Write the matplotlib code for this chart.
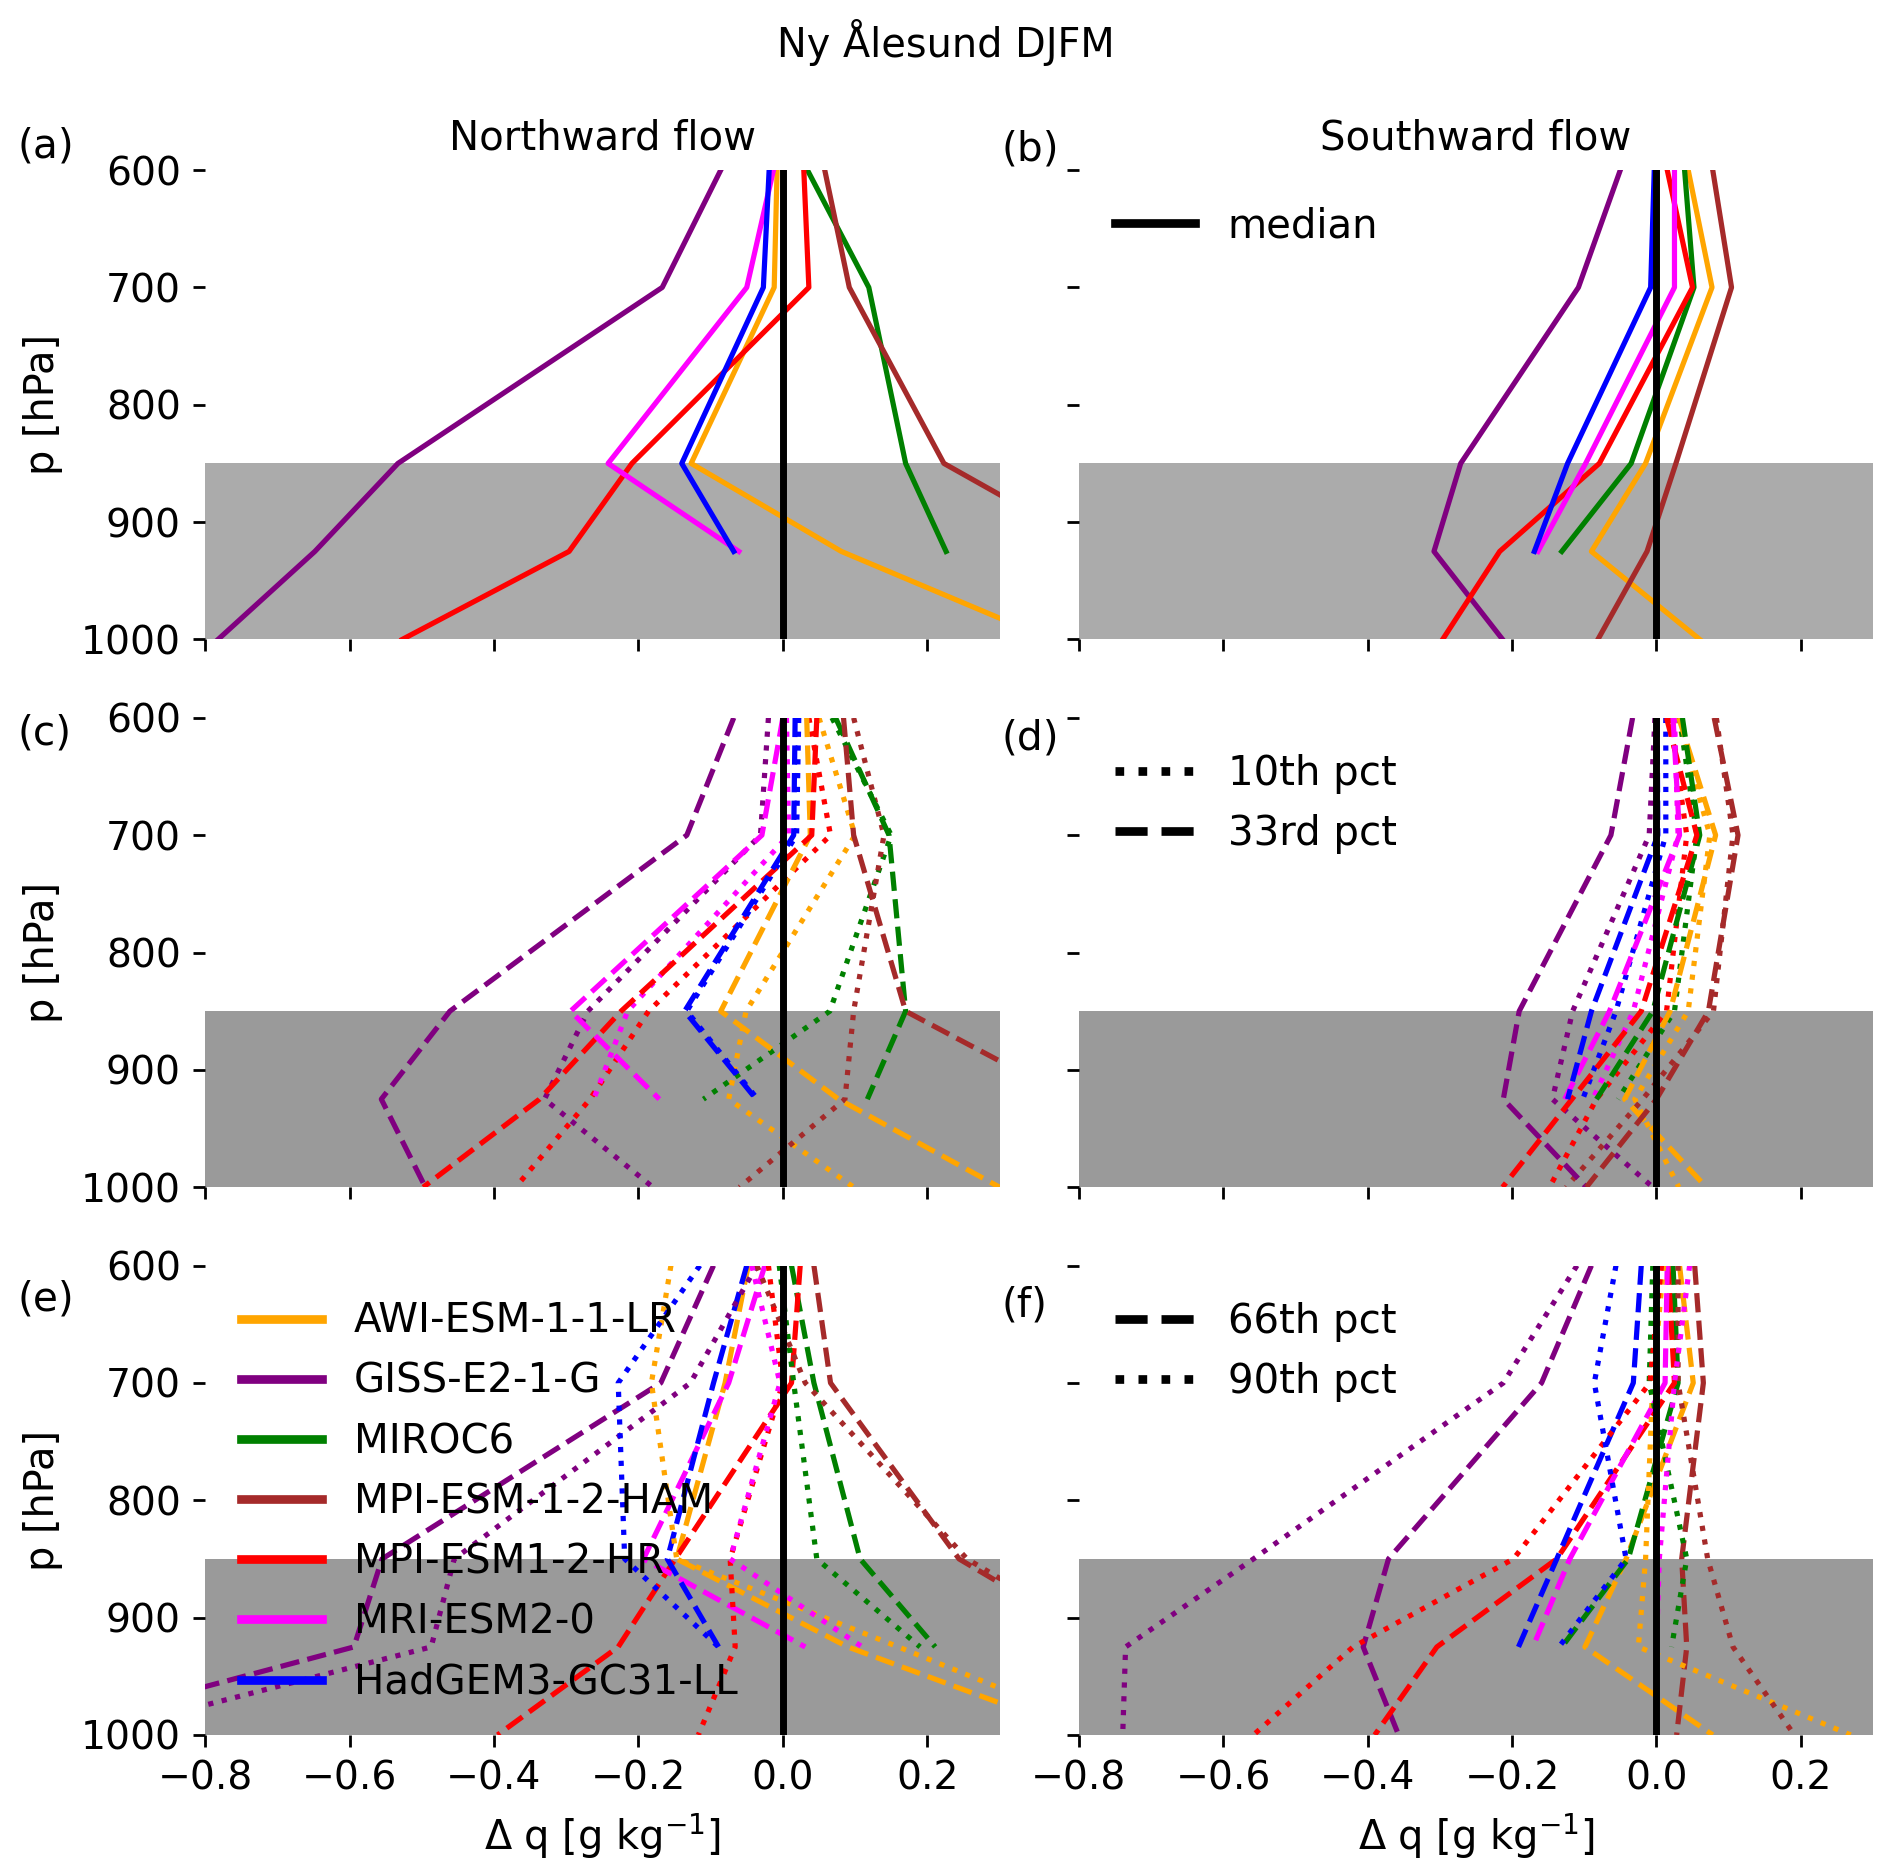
import numpy as np
import matplotlib
matplotlib.use("Agg")
import matplotlib.pyplot as plt
from matplotlib.lines import Line2D

nan = np.nan

levels = [600, 700, 850, 925, 1000]

models = ["AWI-ESM-1-1-LR", "GISS-E2-1-G", "MIROC6", "MPI-ESM-1-2-HAM",
          "MPI-ESM1-2-HR", "MRI-ESM2-0", "HadGEM3-GC31-LL"]
colors = ["orange", "purple", "green", "brown", "red", "magenta", "blue"]

# rows follow `models`, columns follow `levels`
north_median = [
    [-0.008, -0.012, -0.127, 0.081, 0.37],
    [-0.086, -0.167, -0.533, -0.648, -0.782],
    [0.034, 0.119, 0.170, 0.226, nan],
    [0.058, 0.092, 0.223, 0.44, nan],
    [0.029, 0.036, -0.209, -0.296, -0.527],
    [-0.013, -0.050, -0.242, -0.061, nan],
    [-0.019, -0.027, -0.140, -0.068, nan],
]
south_median = [
    [0.044, 0.077, -0.015, -0.090, 0.060],
    [-0.050, -0.108, -0.271, -0.308, -0.213],
    [0.039, 0.052, -0.035, -0.131, nan],
    [0.078, 0.104, 0.027, -0.013, -0.081],
    [0.015, 0.050, -0.079, -0.217, -0.296],
    [0.025, 0.025, -0.098, -0.164, nan],
    [-0.003, -0.008, -0.123, -0.169, nan],
]
north_p10 = [
    [0.050, 0.100, -0.051, -0.075, 0.098],
    [-0.020, -0.031, -0.270, -0.330, -0.180],
    [0.068, 0.150, 0.065, -0.110, nan],
    [0.098, 0.140, 0.098, 0.086, -0.060],
    [0.036, 0.066, -0.186, -0.267, -0.370],
    [0.005, 0.008, -0.215, -0.262, nan],
    [0.022, 0.019, -0.133, -0.035, nan],
]
north_p33 = [
    [0.033, 0.038, -0.086, 0.077, 0.300],
    [-0.068, -0.133, -0.461, -0.556, -0.495],
    [0.073, 0.147, 0.170, 0.117, nan],
    [0.084, 0.098, 0.170, 0.40, nan],
    [0.047, 0.040, -0.224, -0.337, -0.498],
    [0.000, -0.029, -0.294, -0.171, nan],
    [0.017, 0.015, -0.136, -0.037, nan],
]
south_p10 = [
    [0.029, 0.074, 0.044, -0.030, 0.031],
    [-0.002, -0.010, -0.116, -0.144, -0.005],
    [0.032, 0.056, 0.025, -0.053, nan],
    [0.083, 0.106, 0.079, -0.019, -0.125],
    [0.019, 0.042, 0.014, -0.083, -0.148],
    [0.025, 0.030, -0.032, -0.088, nan],
    [0.013, 0.013, -0.056, -0.102, nan],
]
south_p33 = [
    [0.031, 0.082, 0.019, -0.044, 0.069],
    [-0.033, -0.063, -0.190, -0.212, -0.097],
    [0.036, 0.060, -0.005, -0.083, nan],
    [0.080, 0.113, 0.072, 0.000, -0.097],
    [0.014, 0.056, -0.021, -0.117, -0.213],
    [0.023, 0.032, -0.065, -0.127, nan],
    [0.001, 0.002, -0.090, -0.123, nan],
]
north_p66 = [
    [-0.048, -0.080, -0.147, 0.090, 0.42],
    [-0.096, -0.169, -0.555, -0.594, -1.05],
    [0.012, 0.043, 0.107, 0.211, nan],
    [0.043, 0.066, 0.244, 0.45, nan],
    [0.024, 0.012, -0.149, -0.228, -0.395],
    [-0.025, -0.075, -0.193, 0.031, nan],
    [-0.050, -0.096, -0.160, -0.089, nan],
]
north_p90 = [
    [-0.155, -0.182, -0.147, 0.16, 0.46],
    [-0.036, -0.128, -0.455, -0.487, -0.96],
    [-0.005, 0.015, 0.047, 0.190, nan],
    [-0.036, 0.031, 0.255, 0.46, nan],
    [-0.020, 0.000, -0.073, -0.066, -0.117],
    [-0.043, -0.004, -0.073, 0.110, nan],
    [-0.115, -0.228, -0.219, -0.089, nan],
]
south_p66 = [
    [0.032, 0.051, -0.042, -0.099, 0.078],
    [-0.090, -0.159, -0.371, -0.406, -0.357],
    [0.023, 0.030, -0.039, -0.131, nan],
    [0.053, 0.065, 0.035, 0.042, 0.028],
    [0.016, 0.025, -0.138, -0.304, -0.390],
    [0.015, 0.012, -0.120, -0.171, nan],
    [-0.021, -0.032, -0.138, -0.191, nan],
]
south_p90 = [
    [0.010, -0.005, -0.015, -0.025, 0.269],
    [-0.110, -0.212, -0.558, -0.735, -0.739],
    [-0.005, -0.010, 0.042, 0.021, nan],
    [0.030, 0.030, 0.071, 0.106, 0.191],
    [0.007, -0.009, -0.198, -0.420, -0.558],
    [0.046, 0.025, 0.004, 0.000, nan],
    [-0.056, -0.086, -0.042, -0.135, nan],
]

plt.rcParams["font.size"] = 11.5
plt.rcParams["xtick.labelsize"] = 11.3
plt.rcParams["ytick.labelsize"] = 11.3

fig, axes = plt.subplots(3, 2, sharex=True, sharey=True,
                         figsize=(1892 / 250, 1875 / 250), dpi=250)
fig.subplots_adjust(left=0.1084, right=0.99, bottom=0.0747, top=0.9093,
                    wspace=0.0996, hspace=0.167)

panels = [
    (axes[0, 0], [(north_median, "-")]),
    (axes[0, 1], [(south_median, "-")]),
    (axes[1, 0], [(north_p10, ":"), (north_p33, "--")]),
    (axes[1, 1], [(south_p10, ":"), (south_p33, "--")]),
    (axes[2, 0], [(north_p66, "--"), (north_p90, ":")]),
    (axes[2, 1], [(south_p66, "--"), (south_p90, ":")]),
]

for i, (ax, series) in enumerate(panels):
    shade = "#ababab" if i < 2 else "#9a9a9a"
    ax.axhspan(850, 1000, color=shade, lw=0, zorder=0)
    for data, ls in series:
        for row, c in zip(data, colors):
            ax.plot(row, levels, color=c, ls=ls, lw=1.5)
    ax.axvline(0, color="k", lw=2)
    for s in ax.spines.values():
        s.set_visible(False)

ax0 = axes[0, 0]
ax0.set_xlim(-0.8, 0.3)
ax0.set_ylim(1000, 600)
ax0.set_xticks([-0.8, -0.6, -0.4, -0.2, 0.0, 0.2])
ax0.set_yticks([600, 700, 800, 900, 1000])

for ax in axes[:, 0]:
    ax.set_ylabel("p [hPa]", labelpad=5)
for ax in axes[2, :]:
    ax.set_xlabel(r"$\Delta$ q [g kg$^{-1}$]")

axes[0, 0].set_title("Northward flow", fontsize=11.6)
axes[0, 1].set_title("Southward flow", fontsize=11.6)
fig.suptitle("Ny Ålesund DJFM", y=0.9776, va="center", fontsize=11.5)

label_pos = [(-0.236, 1.05), (-0.097, 1.043), (-0.236, 0.967),
             (-0.097, 0.956), (-0.236, 0.928), (-0.097, 0.915)]
for (ax, _), lab, (x, y) in zip(panels, "abcdef", label_pos):
    ax.text(x, y, f"({lab})", transform=ax.transAxes, ha="left",
            va="center", fontsize=11.7)

leg_kw = dict(loc="upper left", frameon=False, handlelength=2.0,
              fontsize=11.6)
axes[0, 1].legend([Line2D([], [], color="k", lw=2.5)], ["median"], **leg_kw)
axes[1, 1].legend([Line2D([], [], color="k", lw=2.5, ls=":"),
                   Line2D([], [], color="k", lw=2.5, ls="--")],
                  ["10th pct", "33rd pct"], **leg_kw)
axes[2, 1].legend([Line2D([], [], color="k", lw=2.5, ls="--"),
                   Line2D([], [], color="k", lw=2.5, ls=":")],
                  ["66th pct", "90th pct"], **leg_kw)
axes[2, 0].legend([Line2D([], [], color=c, lw=2.5) for c in colors],
                  models, **leg_kw)

fig.savefig("out.png", dpi=250)
